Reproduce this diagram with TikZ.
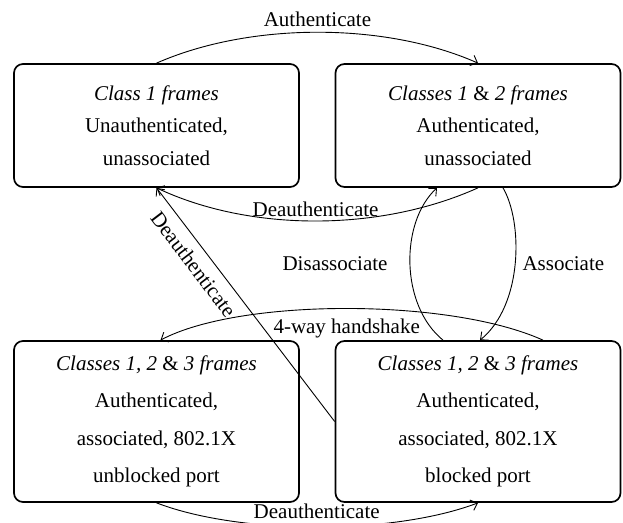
\documentclass[tikz,border=0pt]{standalone}
\usepackage{fontspec}
\setmainfont{Liberation Serif}
\usetikzlibrary{arrows.meta}
\begin{document}
\begin{tikzpicture}[x=1bp,y=1bp,
  statebox/.style={draw, line width=1.7bp, rounded corners=9bp, minimum width=285bp, align=center, inner sep=0pt},
  topbox/.style={statebox, minimum height=123bp, font=\fontsize{21bp}{32.5bp}\selectfont},
  botbox/.style={statebox, minimum height=161bp, font=\fontsize{21bp}{37.5bp}\selectfont},
  arr/.style={line width=0.9bp, -{Straight Barb[length=6bp,width=11bp,line width=0.9bp]}},
  lbl/.style={font=\fontsize{21bp}{25bp}\selectfont, inner sep=2bp}]
\useasboundingbox (0,0) rectangle (623,-523);
\node[topbox] (tl) at (156.5,-125.5) {\textit{Class 1 frames}\\Unauthenticated,\\unassociated};
\node[topbox] (tr) at (478,-125.5) {\textit{Classes 1} \& \textit{2 frames}\\Authenticated,\\unassociated};
\node[botbox] (bl) at (156.5,-421.5) {\textit{Classes 1, 2} \& \textit{3 frames}\\Authenticated,\\associated, 802.1X\\unblocked port};
\node[botbox] (br) at (478,-421.5) {\textit{Classes 1, 2} \& \textit{3 frames}\\Authenticated,\\associated, 802.1X\\blocked port};
% Authenticate
\draw[arr] (tl.north) .. controls (250,-22) and (385,-22) .. (tr.north)
  node[lbl, midway, above=3bp] (a1) {Authenticate};
% Deauthenticate top
\draw[arr] (tr.south) .. controls (380,-232) and (250,-232) .. (tl.south)
  node[lbl, midway, above=2bp] (a2) {Deauthenticate};
% Disassociate
\draw[arr] ([xshift=-35bp]br.north) .. controls (400,-305) and (400,-222) .. ([xshift=-41bp]tr.south)
  node[lbl, midway, left=20bp] (a3) {Disassociate};
% Associate
\draw[arr] ([xshift=25bp]tr.south) .. controls (523,-222) and (523,-305) .. ([xshift=2bp]br.north)
  node[lbl, midway, right=5bp] (a4) {Associate};
% 4-way handshake
\draw[arr] ([xshift=65bp]br.north) .. controls (450,-298) and (240,-298) .. ([xshift=4bp]bl.north)
  node[lbl, midway, below=8bp] (a5) {4-way handshake};
% diagonal Deauthenticate
\draw[arr] (br.west) -- (tl.south)
  node[lbl, sloped, pos=0.717, below=7bp] (a6) {Deauthenticate};
% bottom Deauthenticate
\draw[arr] (bl.south) .. controls (240,-535) and (393,-535) .. (br.south)
  node[lbl, midway, above=6bp] (a7) {Deauthenticate};
\end{tikzpicture}
\end{document}
